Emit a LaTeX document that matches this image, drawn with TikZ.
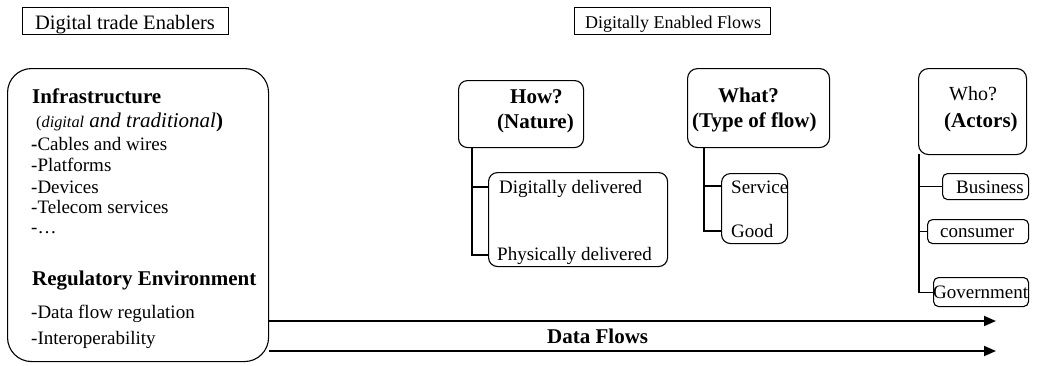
\documentclass[tikz,border=0pt]{standalone}
\usepackage{fontspec}
\setmainfont{Liberation Serif}
\usetikzlibrary{arrows.meta}
\begin{document}
\begin{tikzpicture}[x=1pt,y=-1pt,
  box/.style={draw, line width=1.1pt, rounded corners=#1, inner sep=0pt, anchor=north west},
  box/.default=8pt,
  tbox/.style={draw, line width=1pt, inner sep=0pt, anchor=north west},
  txt/.style={inner sep=0pt, anchor=base west, font=\fontsize{19}{21}\selectfont},
  hd/.style={inner sep=0pt, anchor=base west, font=\fontsize{21}{23}\selectfont\bfseries},
  conn/.style={line width=1.1pt},
  arr/.style={line width=1.8pt, -{Triangle[length=12pt,width=10pt]}}]
\useasboundingbox (0,0) rectangle (1037,365);

% title boxes
\node[tbox, minimum width=206pt, minimum height=27pt] (tl) at (22,7) {};
\node[inner sep=0pt, anchor=base, font=\fontsize{20.5}{22}\selectfont] (tlt) at (125,29) {Digital trade Enablers};
\node[tbox, minimum width=196pt, minimum height=27pt] (tr) at (574,7) {};
\node[inner sep=0pt, anchor=base, font=\fontsize{18}{20}\selectfont] (trt) at (673,28) {Digitally Enabled Flows};

% big left box
\node[box=24pt, minimum width=261pt, minimum height=293pt] (big) at (7,68) {};
\node[hd] (infra) at (32,103) {Infrastructure};
\node[inner sep=0pt, anchor=base west] (dt) at (36,127) {{\fontsize{16.3}{18}\selectfont(\textit{digital}}{\fontsize{21}{23}\selectfont\textit{ and traditional}\textbf{)}}};
\node[txt] (i1) at (31,150) {\textbf{-}Cables and wires};
\node[txt] (i2) at (31,171) {-Platforms};
\node[txt] (i3) at (31,193) {-Devices};
\node[txt] (i4) at (31,213) {-Telecom services};
\node[txt] (i5) at (31,233) {-\dots};
\node[hd] (reg) at (32,285) {Regulatory Environment};
\node[txt] (r1) at (31,318) {-Data flow regulation};
\node[txt] (r2) at (31,344) {-Interoperability};

% How
\node[box=9pt, minimum width=125pt, minimum height=67pt] (how) at (458,80) {};
\node[hd] (howt) at (510,103) {How?};
\node[hd] (howt2) at (497,128) {(Nature)};
\node[box=9pt, minimum width=179pt, minimum height=94pt] (dd) at (488,172) {};
\node[txt] (dd1) at (499,193) {Digitally delivered};
\node[txt] (dd2) at (497,260) {Physically delivered};
\coordinate (h0) at (472,147);
\coordinate (h1) at (488,187);
\coordinate (h2) at (488,255);
\draw[conn] (h0) |- (h1);
\draw[conn] (h0) |- (h2);

% What
\node[box=10pt, minimum width=142pt, minimum height=79pt] (what) at (687,68) {};
\node[hd] (whatt) at (718,102) {What?};
\node[hd] (whatt2) at (692,127) {(Type of flow)};
\node[box=9pt, minimum width=66pt, minimum height=70pt] (sg) at (721,173) {};
\node[txt] (sg1) at (731,193) {Service};
\node[txt] (sg2) at (731,237) {Good};
\coordinate (w0) at (704,147);
\coordinate (w1) at (721,186);
\coordinate (w2) at (721,231);
\draw[conn] (w0) |- (w1);
\draw[conn] (w0) |- (w2);

% Who
\node[box=10pt, minimum width=108pt, minimum height=86pt] (who) at (918,68) {};
\node[inner sep=0pt, anchor=base west, font=\fontsize{20}{22}\selectfont] (whot) at (949,100) {Who?};
\node[hd] (whot2) at (944,127) {(Actors)};
\node[box=5pt, minimum width=86pt, minimum height=26pt] (bus) at (942,173) {};
\node[txt] (bust) at (956,193) {Business};
\node[box=5pt, minimum width=101pt, minimum height=24pt] (con) at (927,219) {};
\node[txt] (cont) at (940,237) {consumer};
\node[box=5pt, minimum width=95pt, minimum height=29pt] (gov) at (933,277) {};
\node[txt] (govt) at (933,298) {Government};
\coordinate (o0) at (919,154);
\draw[conn] (o0) |- (bus.west);
\draw[conn] (o0) |- (con.west);
\draw[conn] (o0) |- (gov.west);

% data flows
\coordinate (a1) at (996,321);
\coordinate (a2) at (996,351);
\draw[arr] (big.east |- a1) -- (a1);
\draw[arr] (big.east |- a2) -- (a2);
\node[hd] (df) at (547,343) {Data Flows};
\end{tikzpicture}
\end{document}
